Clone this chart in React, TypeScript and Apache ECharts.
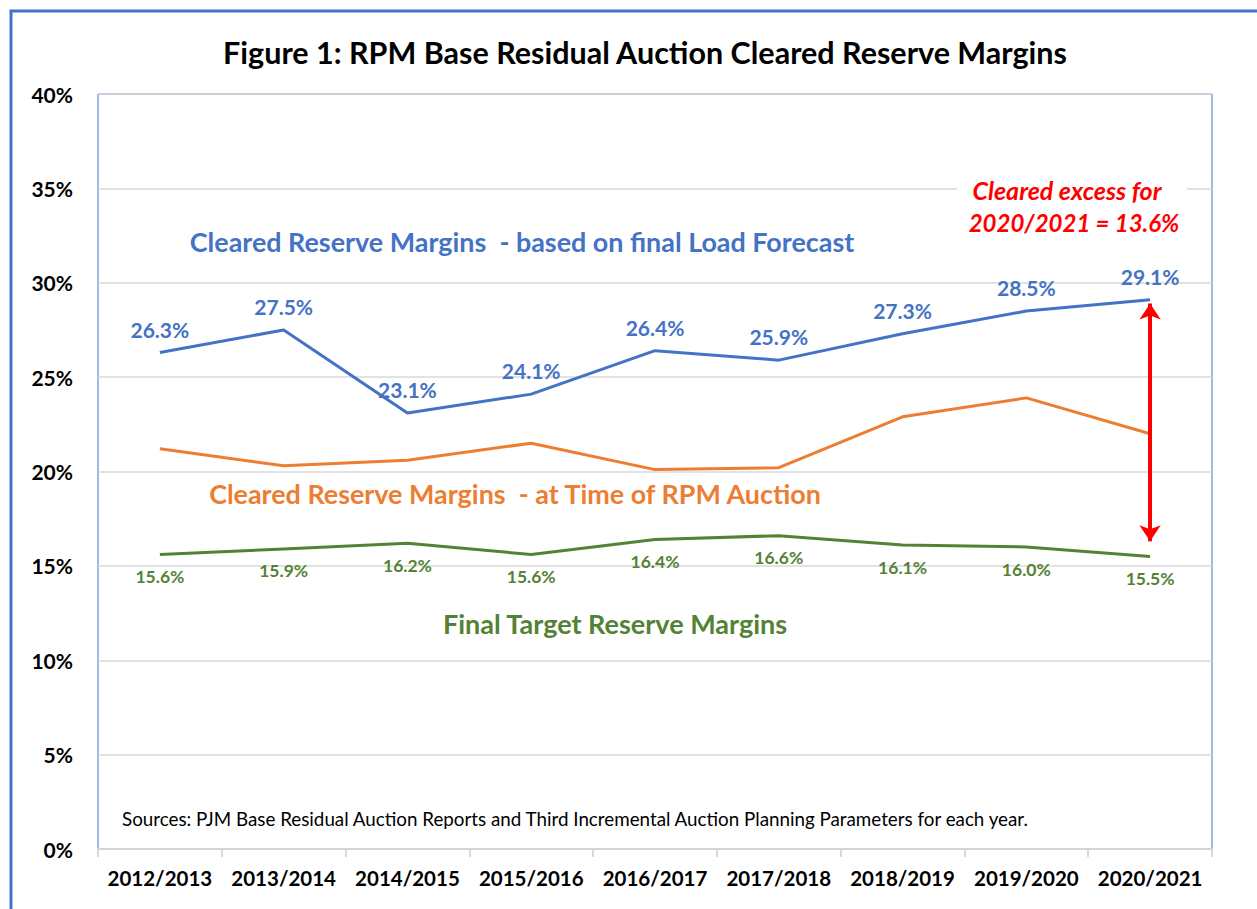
import React, { useEffect, useRef } from "react";
import * as echarts from "echarts";

const categories = [
  "2012/2013", "2013/2014", "2014/2015", "2015/2016", "2016/2017",
  "2017/2018", "2018/2019", "2019/2020", "2020/2021",
];
const clearedFinal = [26.3, 27.5, 23.1, 24.1, 26.4, 25.9, 27.3, 28.5, 29.1];
const clearedAuction = [21.2, 20.3, 20.6, 21.5, 20.1, 20.2, 22.9, 23.9, 22.0];
const targetMargins = [15.6, 15.9, 16.2, 15.6, 16.4, 16.6, 16.1, 16.0, 15.5];
const arrowRange = [28.9, 16.3];

const FONT = "Lato, 'Noto Sans', sans-serif";
const BLUE = "#4472C4";
const ORANGE = "#ED7D31";
const GREEN = "#548235";

export default function App() {
  const ref = useRef<HTMLDivElement>(null);
  useEffect(() => {
    document.body.style.margin = "0";
    const chart = echarts.init(ref.current!, null, { renderer: "svg" });
    const pct = (p: any) => Number(p.value).toFixed(1) + "%";
    chart.setOption({
      animation: false,
      backgroundColor: "#fff",
      textStyle: { fontFamily: FONT },
      grid: {
        left: 98, right: 45, top: 94, bottom: 60,
        show: true, borderColor: BLUE, borderWidth: 1,
      },
      xAxis: {
        type: "category",
        data: categories,
        boundaryGap: true,
        axisLine: { lineStyle: { color: "#D0D4DE", width: 2 } },
        axisTick: { show: true, length: 8, lineStyle: { color: "#D9D9D9", width: 2 } },
        axisLabel: { interval: 0, color: "#000", fontWeight: "bold", fontSize: 20.5, margin: 18, fontFamily: FONT },
      },
      yAxis: {
        type: "value",
        min: 0, max: 40, interval: 5,
        axisLine: { show: false },
        axisTick: { show: false },
        splitLine: { lineStyle: { color: "#D9D9D9", width: 1.5 } },
        axisLabel: { formatter: "{value}%", color: "#000", fontWeight: "bold", fontSize: 21, margin: 25, fontFamily: FONT },
      },
      series: [
        {
          type: "line", data: clearedFinal, symbol: "circle", symbolSize: 0, showSymbol: true,
          itemStyle: { color: BLUE },
          lineStyle: { color: BLUE, width: 3 },
          label: { show: true, position: "top", distance: 13, formatter: pct, color: BLUE, fontSize: 21, fontWeight: "bold", fontFamily: FONT },
        },
        {
          type: "line", data: clearedAuction, symbol: "none",
          lineStyle: { color: ORANGE, width: 3 },
        },
        {
          type: "line", data: targetMargins, symbol: "circle", symbolSize: 0, showSymbol: true,
          itemStyle: { color: GREEN },
          lineStyle: { color: GREEN, width: 3 },
          label: { show: true, position: "bottom", distance: 13, formatter: pct, color: GREEN, fontSize: 17.5, fontWeight: "bold", fontFamily: FONT },
          markLine: {
            silent: true,
            symbol: ["arrow", "arrow"],
            symbolSize: [16, 16],
            label: { show: false },
            lineStyle: { color: "#FF0000", width: 4, type: "solid" },
            data: [[
              { coord: [categories[8], arrowRange[0]] },
              { coord: [categories[8], arrowRange[1]] },
            ]],
          },
        },
      ],
      graphic: [
        {
          type: "rect", z: 1,
          shape: { x: 11, y: 11, width: 1400, height: 1100 },
          style: { fill: "none", stroke: BLUE, lineWidth: 3 },
          silent: true,
        },
        {
          type: "text", z: 10, x: 645, y: 52,
          style: { text: "Figure 1: RPM Base Residual Auction Cleared Reserve Margins", fill: "#000", font: `bold 30.5px ${FONT}`, textAlign: "center", textVerticalAlign: "middle" },
        },
        {
          type: "text", z: 10, x: 522, y: 241,
          style: { text: "Cleared Reserve Margins  - based on final Load Forecast", fill: BLUE, font: `bold 26.9px ${FONT}`, textAlign: "center", textVerticalAlign: "middle" },
        },
        {
          type: "text", z: 10, x: 515, y: 493,
          style: { text: "Cleared Reserve Margins  - at Time of RPM Auction", fill: ORANGE, font: `bold 26.9px ${FONT}`, textAlign: "center", textVerticalAlign: "middle" },
        },
        {
          type: "text", z: 10, x: 615, y: 623,
          style: { text: "Final Target Reserve Margins", fill: GREEN, font: `bold 27px ${FONT}`, textAlign: "center", textVerticalAlign: "middle" },
        },
        {
          type: "rect", z: 9,
          shape: { x: 957, y: 172, width: 230, height: 66 },
          style: { fill: "#fff" },
          silent: true,
        },
        {
          type: "text", z: 10, x: 1067, y: 190,
          style: { text: "Cleared excess for", fill: "#FF0000", font: `italic bold 25px ${FONT}`, textAlign: "center", textVerticalAlign: "middle" },
        },
        {
          type: "text", z: 10, x: 1074, y: 222,
          style: { text: "2020/2021 = 13.6%", fill: "#FF0000", font: `italic bold 24px ${FONT}`, textAlign: "center", textVerticalAlign: "middle" },
        },
        {
          type: "text", z: 10, x: 122, y: 818,
          style: { text: "Sources: PJM Base Residual Auction Reports and Third Incremental Auction Planning Parameters for each year.", fill: "#000", font: `18.8px ${FONT}`, textAlign: "left", textVerticalAlign: "middle" },
        },
      ],
    });
    return () => chart.dispose();
  }, []);
  return <div ref={ref} style={{ width: 1257, height: 909 }} />;
}
